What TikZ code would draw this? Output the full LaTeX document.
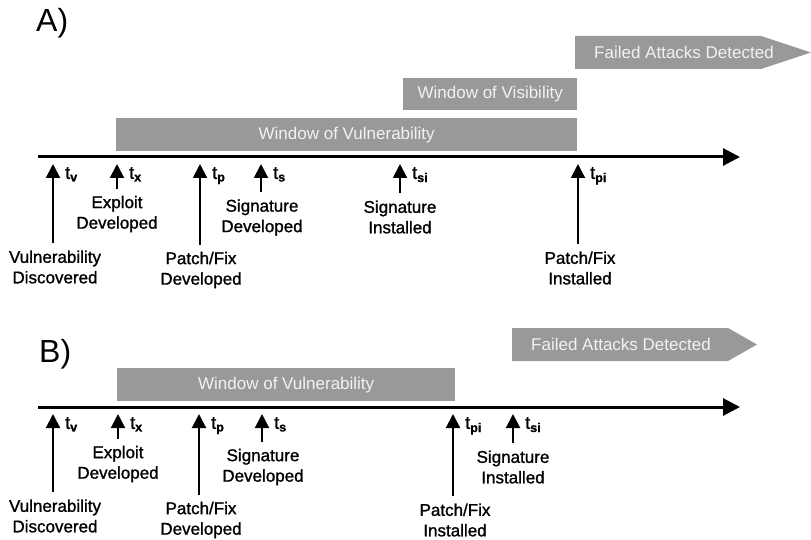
\documentclass[tikz,border=0pt]{standalone}
\usepackage{fontspec}
\setmainfont{Liberation Sans}
\newfontfamily\heavyfont[FakeBold=1.2]{Liberation Sans}
\usepackage{tikz}
\usetikzlibrary{arrows.meta,positioning}
\definecolor{WinGray}{HTML}{999999}
\definecolor{WinText}{HTML}{F2F2F2}

\begin{document}
\begin{tikzpicture}[x=1pt,y=-1pt,>=Triangle]
\tikzstyle{window}=[rectangle,fill=WinGray,text=WinText,inner sep=0pt,minimum height=33pt,anchor=north west,font=\fontsize{17}{20}\selectfont]
\tikzstyle{wintext}=[text=WinText,inner sep=0pt,font=\fontsize{17}{20}\selectfont]
\tikzstyle{event}=[align=center,inner sep=1pt,font=\heavyfont\fontsize{17}{20.5}\selectfont]
\tikzstyle{tlabel}=[anchor=north west,inner sep=0pt,font=\heavyfont\fontsize{18}{20}\selectfont]
\tikzstyle{panel}=[anchor=base west,inner sep=0pt,font=\fontsize{32}{36}\selectfont]
\tikzstyle{timeline}=[line width=3pt,-{Triangle[length=17pt,width=17pt]}]
\tikzstyle{tick}=[line width=2pt,-{Triangle[length=14pt,width=14pt]},shorten <=6pt]
\newcommand{\tsub}[1]{t\textsubscript{\bfseries #1}}
\useasboundingbox (0,0) rectangle (811,540);

\node[panel] (panelA) at (36,32) {A)};
\fill[WinGray] (575,36) -- (761,36) -- (811,52.5) -- (761,69) -- (575,69) -- cycle;
\node[wintext] (fadA) at (684,52.5) {Failed Attacks Detected};
\node[window,minimum width=174pt,minimum height=32pt] (wvisA) at (403,78) {Window of Visibility};
\node[window,minimum width=461pt] (wvulA) at (116,118) {Window of Vulnerability};
\coordinate (startA) at (38,157);
\coordinate (endA) at (740,157);
\draw[timeline] (startA) -- (endA);

\coordinate (tvA) at (53,164);
\coordinate (txA) at (117,164);
\coordinate (tpA) at (200,164);
\coordinate (tsA) at (261,164);
\coordinate (tsiA) at (400,164);
\coordinate (tpiA) at (578,164);
\node[tlabel] (tvAl) at (65,167) {\tsub{v}};
\node[tlabel] (txAl) at (129,167) {\tsub{x}};
\node[tlabel] (tpAl) at (212,167) {\tsub{p}};
\node[tlabel] (tsAl) at (273,167) {\tsub{s}};
\node[tlabel] (tsiAl) at (412,167) {\tsub{si}};
\node[tlabel] (tpiAl) at (590,167) {\tsub{pi}};
\node[event] (vdA) at (55,267) {Vulnerability\\Discovered};
\node[event] (edA) at (117,214) {Exploit\\Developed};
\node[event] (pdA) at (201,270) {Patch/Fix\\Developed};
\node[event] (sdA) at (262,217.5) {Signature\\Developed};
\node[event] (siA) at (400,217) {Signature\\Installed};
\node[event] (piA) at (580,268) {Patch/Fix\\Installed};
\draw[tick] (vdA.north -| tvA) -- (tvA);
\draw[tick] (edA.north -| txA) -- (txA);
\draw[tick] (pdA.north -| tpA) -- (tpA);
\draw[tick] (sdA.north -| tsA) -- (tsA);
\draw[tick] (siA.north -| tsiA) -- (tsiA);
\draw[tick] (piA.north -| tpiA) -- (tpiA);

\node[panel] (panelB) at (39,362) {B)};
\fill[WinGray] (512,328) -- (728,328) -- (757,344.5) -- (728,361) -- (512,361) -- cycle;
\node[wintext] (fadB) at (621,344.5) {Failed Attacks Detected};
\node[window,minimum width=338pt] (wvulB) at (117,368) {Window of Vulnerability};
\coordinate (startB) at (38,407);
\coordinate (endB) at (740,407);
\draw[timeline] (startB) -- (endB);

\coordinate (tvB) at (53,414);
\coordinate (txB) at (118,414);
\coordinate (tpB) at (199,414);
\coordinate (tsB) at (262,414);
\coordinate (tpiB) at (453,414);
\coordinate (tsiB) at (513,414);
\node[tlabel] (tvBl) at (65,417) {\tsub{v}};
\node[tlabel] (txBl) at (130,417) {\tsub{x}};
\node[tlabel] (tpBl) at (211,417) {\tsub{p}};
\node[tlabel] (tsBl) at (274,417) {\tsub{s}};
\node[tlabel] (tpiBl) at (465,417) {\tsub{pi}};
\node[tlabel] (tsiBl) at (525,417) {\tsub{si}};
\node[event] (vdB) at (55,516) {Vulnerability\\Discovered};
\node[event] (edB) at (118,464) {Exploit\\Developed};
\node[event] (pdB) at (201,520) {Patch/Fix\\Developed};
\node[event] (sdB) at (263,467) {Signature\\Developed};
\node[event] (piB) at (455,520) {Patch/Fix\\Installed};
\node[event] (siB) at (513,467) {Signature\\Installed};
\draw[tick] (vdB.north -| tvB) -- (tvB);
\draw[tick] (edB.north -| txB) -- (txB);
\draw[tick] (pdB.north -| tpB) -- (tpB);
\draw[tick] (sdB.north -| tsB) -- (tsB);
\draw[tick] (piB.north -| tpiB) -- (tpiB);
\draw[tick] (siB.north -| tsiB) -- (tsiB);
\end{tikzpicture}
\end{document}
